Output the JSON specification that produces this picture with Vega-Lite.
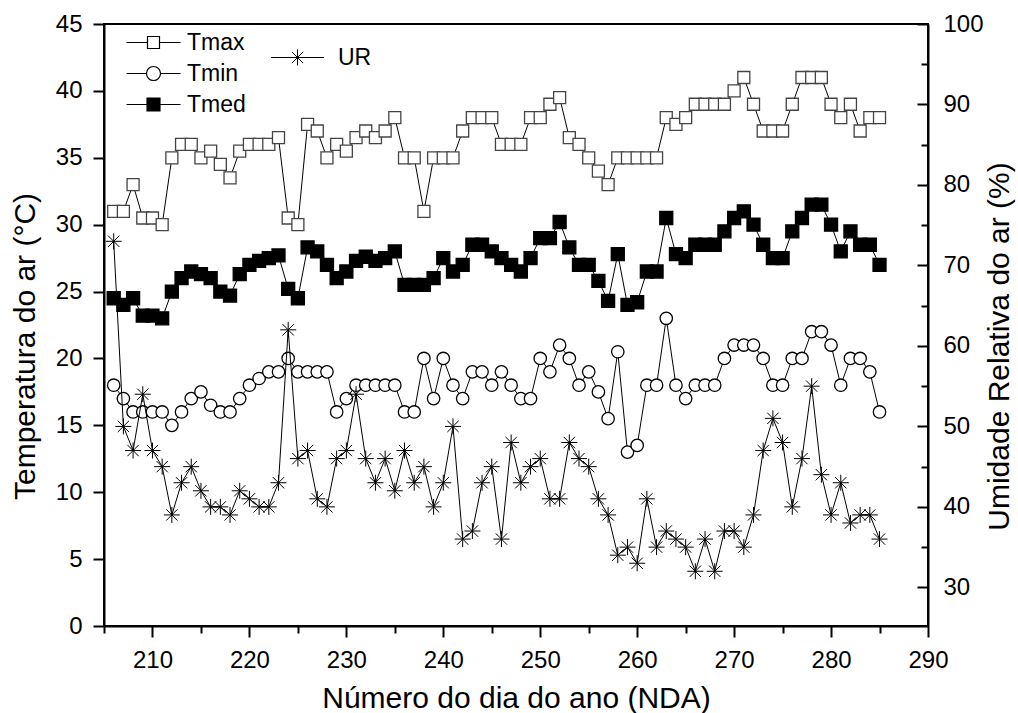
{
"$schema":"https://vega.github.io/schema/vega-lite/v6.json",
"width":824,"height":602,
"autosize":{"type":"none"},
"padding":{"left":104,"top":24,"right":90,"bottom":87},
"background":"white",
"config":{"font":"Liberation Sans","view":{"stroke":"black","strokeWidth":2},
 "axis":{"labelFontSize":24,"titleFontSize":30,"labelColor":"black","titleColor":"black","titleFontWeight":"normal","domainColor":"black","domainWidth":2,"tickColor":"black","tickWidth":2,"grid":false,"labelFlush":false,"labelOverlap":false,"labelBound":false}},
"data":{"values":[
{"dia":206,"Tmax":31,"Tmin":18,"Tmed":24.5,"UR":73},
{"dia":207,"Tmax":31,"Tmin":17,"Tmed":24,"UR":50},
{"dia":208,"Tmax":33,"Tmin":16,"Tmed":24.5,"UR":47},
{"dia":209,"Tmax":30.5,"Tmin":16,"Tmed":23.2,"UR":54},
{"dia":210,"Tmax":30.5,"Tmin":16,"Tmed":23.2,"UR":47},
{"dia":211,"Tmax":30,"Tmin":16,"Tmed":23,"UR":45},
{"dia":212,"Tmax":35,"Tmin":15,"Tmed":25,"UR":39},
{"dia":213,"Tmax":36,"Tmin":16,"Tmed":26,"UR":43},
{"dia":214,"Tmax":36,"Tmin":17,"Tmed":26.5,"UR":45},
{"dia":215,"Tmax":35,"Tmin":17.5,"Tmed":26.3,"UR":42},
{"dia":216,"Tmax":35.5,"Tmin":16.5,"Tmed":26,"UR":40},
{"dia":217,"Tmax":34.5,"Tmin":16,"Tmed":25,"UR":40},
{"dia":218,"Tmax":33.5,"Tmin":16,"Tmed":24.7,"UR":39},
{"dia":219,"Tmax":35.5,"Tmin":17,"Tmed":26.3,"UR":42},
{"dia":220,"Tmax":36,"Tmin":18,"Tmed":27,"UR":41},
{"dia":221,"Tmax":36,"Tmin":18.5,"Tmed":27.3,"UR":40},
{"dia":222,"Tmax":36,"Tmin":19,"Tmed":27.5,"UR":40},
{"dia":223,"Tmax":36.5,"Tmin":19,"Tmed":27.7,"UR":43},
{"dia":224,"Tmax":30.5,"Tmin":20,"Tmed":25.2,"UR":62},
{"dia":225,"Tmax":30,"Tmin":19,"Tmed":24.5,"UR":46},
{"dia":226,"Tmax":37.5,"Tmin":19,"Tmed":28.3,"UR":47},
{"dia":227,"Tmax":37,"Tmin":19,"Tmed":28,"UR":41},
{"dia":228,"Tmax":35,"Tmin":19,"Tmed":27,"UR":40},
{"dia":229,"Tmax":36,"Tmin":16,"Tmed":26,"UR":46},
{"dia":230,"Tmax":35.5,"Tmin":17,"Tmed":26.5,"UR":47},
{"dia":231,"Tmax":36.5,"Tmin":18,"Tmed":27.3,"UR":54},
{"dia":232,"Tmax":37,"Tmin":18,"Tmed":27.6,"UR":46},
{"dia":233,"Tmax":36.5,"Tmin":18,"Tmed":27.3,"UR":43},
{"dia":234,"Tmax":37,"Tmin":18,"Tmed":27.5,"UR":46},
{"dia":235,"Tmax":38,"Tmin":18,"Tmed":28,"UR":42},
{"dia":236,"Tmax":35,"Tmin":16,"Tmed":25.5,"UR":47},
{"dia":237,"Tmax":35,"Tmin":16,"Tmed":25.5,"UR":43},
{"dia":238,"Tmax":31,"Tmin":20,"Tmed":25.5,"UR":45},
{"dia":239,"Tmax":35,"Tmin":17,"Tmed":26,"UR":40},
{"dia":240,"Tmax":35,"Tmin":20,"Tmed":27.5,"UR":43},
{"dia":241,"Tmax":35,"Tmin":18,"Tmed":26.5,"UR":50},
{"dia":242,"Tmax":37,"Tmin":17,"Tmed":27,"UR":36},
{"dia":243,"Tmax":38,"Tmin":19,"Tmed":28.5,"UR":37},
{"dia":244,"Tmax":38,"Tmin":19,"Tmed":28.5,"UR":43},
{"dia":245,"Tmax":38,"Tmin":18,"Tmed":28,"UR":45},
{"dia":246,"Tmax":36,"Tmin":19,"Tmed":27.5,"UR":36},
{"dia":247,"Tmax":36,"Tmin":18,"Tmed":27,"UR":48},
{"dia":248,"Tmax":36,"Tmin":17,"Tmed":26.5,"UR":43},
{"dia":249,"Tmax":38,"Tmin":17,"Tmed":27.5,"UR":45},
{"dia":250,"Tmax":38,"Tmin":20,"Tmed":29,"UR":46},
{"dia":251,"Tmax":39,"Tmin":19,"Tmed":29,"UR":41},
{"dia":252,"Tmax":39.5,"Tmin":21,"Tmed":30.2,"UR":41},
{"dia":253,"Tmax":36.5,"Tmin":20,"Tmed":28.3,"UR":48},
{"dia":254,"Tmax":36,"Tmin":18,"Tmed":27,"UR":46},
{"dia":255,"Tmax":35,"Tmin":19,"Tmed":27,"UR":45},
{"dia":256,"Tmax":34,"Tmin":17.5,"Tmed":25.8,"UR":41},
{"dia":257,"Tmax":33,"Tmin":15.5,"Tmed":24.3,"UR":39},
{"dia":258,"Tmax":35,"Tmin":20.5,"Tmed":27.8,"UR":34},
{"dia":259,"Tmax":35,"Tmin":13,"Tmed":24,"UR":35},
{"dia":260,"Tmax":35,"Tmin":13.5,"Tmed":24.2,"UR":33},
{"dia":261,"Tmax":35,"Tmin":18,"Tmed":26.5,"UR":41},
{"dia":262,"Tmax":35,"Tmin":18,"Tmed":26.5,"UR":35},
{"dia":263,"Tmax":38,"Tmin":23,"Tmed":30.5,"UR":37},
{"dia":264,"Tmax":37.5,"Tmin":18,"Tmed":27.8,"UR":36},
{"dia":265,"Tmax":38,"Tmin":17,"Tmed":27.5,"UR":35},
{"dia":266,"Tmax":39,"Tmin":18,"Tmed":28.5,"UR":32},
{"dia":267,"Tmax":39,"Tmin":18,"Tmed":28.5,"UR":36},
{"dia":268,"Tmax":39,"Tmin":18,"Tmed":28.5,"UR":32},
{"dia":269,"Tmax":39,"Tmin":20,"Tmed":29.5,"UR":37},
{"dia":270,"Tmax":40,"Tmin":21,"Tmed":30.5,"UR":37},
{"dia":271,"Tmax":41,"Tmin":21,"Tmed":31,"UR":35},
{"dia":272,"Tmax":39,"Tmin":21,"Tmed":30,"UR":39},
{"dia":273,"Tmax":37,"Tmin":20,"Tmed":28.5,"UR":47},
{"dia":274,"Tmax":37,"Tmin":18,"Tmed":27.5,"UR":51},
{"dia":275,"Tmax":37,"Tmin":18,"Tmed":27.5,"UR":48},
{"dia":276,"Tmax":39,"Tmin":20,"Tmed":29.5,"UR":40},
{"dia":277,"Tmax":41,"Tmin":20,"Tmed":30.5,"UR":46},
{"dia":278,"Tmax":41,"Tmin":22,"Tmed":31.5,"UR":55},
{"dia":279,"Tmax":41,"Tmin":22,"Tmed":31.5,"UR":44},
{"dia":280,"Tmax":39,"Tmin":21,"Tmed":30,"UR":39},
{"dia":281,"Tmax":38,"Tmin":18,"Tmed":28,"UR":43},
{"dia":282,"Tmax":39,"Tmin":20,"Tmed":29.5,"UR":38},
{"dia":283,"Tmax":37,"Tmin":20,"Tmed":28.5,"UR":39},
{"dia":284,"Tmax":38,"Tmin":19,"Tmed":28.5,"UR":39},
{"dia":285,"Tmax":38,"Tmin":16,"Tmed":27,"UR":36}
]},
"layer":[
 {"transform":[{"fold":["Tmax","Tmin","Tmed"],"as":["serie","valor"]}],
  "layer":[
   {"mark":{"type":"line","color":"black","strokeWidth":1},
    "encoding":{
     "x":{"field":"dia","type":"quantitative","scale":{"domain":[205,290],"nice":false,"zero":false},
      "axis":{"values":[205,210,215,220,225,230,235,240,245,250,255,260,265,270,275,280,285,290],"format":"d",
       "labelExpr":"datum.value % 10 === 0 ? datum.label : ''",
       "tickSize":{"condition":{"test":"datum.value % 10 === 0","value":11},"value":7},
       "labelPadding":11,
       "title":"Número do dia do ano (NDA)","titleX":412,"titleY":81,"titleBaseline":"alphabetic","titleAlign":"center","titleAngle":0}},
     "y":{"field":"valor","type":"quantitative","scale":{"domain":[0,45],"nice":false,"zero":false},
      "axis":{"orient":"left","values":[0,2.5,5,7.5,10,12.5,15,17.5,20,22.5,25,27.5,30,32.5,35,37.5,40,42.5,45],"format":"d",
       "labelExpr":"datum.value % 5 === 0 ? datum.label : ''",
       "tickSize":{"condition":{"test":"datum.value % 5 === 0","value":11},"value":7},
       "labelPadding":11,
       "title":"Temperatura do ar (°C)","titleX":-70,"titleY":322,"titleBaseline":"alphabetic","titleAlign":"center","titleAngle":270}},
     "detail":{"field":"serie"}}},
   {"mark":{"type":"point","opacity":1,"strokeWidth":1.3},
    "encoding":{
     "x":{"field":"dia","type":"quantitative","scale":{"domain":[205,290],"nice":false,"zero":false}},
     "y":{"field":"valor","type":"quantitative","scale":{"domain":[0,45],"nice":false,"zero":false}},
     "shape":{"condition":{"test":"datum.serie === 'Tmin'","value":"circle"},"value":"square"},
     "fill":{"condition":{"test":"datum.serie === 'Tmed'","value":"black"},"value":"white"},
     "stroke":{"condition":{"test":"datum.serie === 'Tmax'","value":"#444444"},"value":"black"},
     "size":{"condition":[{"test":"datum.serie === 'Tmax'","value":144},{"test":"datum.serie === 'Tmin'","value":154}],"value":169}}},
   {"transform":[{"filter":"datum.dia < 0"}],
    "mark":{"type":"point","opacity":1,"strokeWidth":1.2,"color":"black","filled":false},
    "encoding":{
     "x":{"field":"dia","type":"quantitative","scale":{"domain":[205,290],"nice":false,"zero":false}},
     "y":{"field":"valor","type":"quantitative","scale":{"domain":[0,45],"nice":false,"zero":false}},
     "shape":{"field":"serie","type":"nominal","scale":{"domain":["Tmax","Tmin","Tmed"],"range":["M-4.5,0H-1M1,0H4.5M-1,-1H1V1H-1Z","M-4.5,0H-1.17M1.17,0H4.5M-1.17,0A1.17,1.17,0,1,0,1.17,0A1.17,1.17,0,1,0,-1.17,0Z","M-4.5,0H-1.08M1.08,0H4.5M-1.08,-1.08H1.08V1.08H-1.08ZM-1.08,-0.9H1.08M-1.08,-0.72H1.08M-1.08,-0.54H1.08M-1.08,-0.36H1.08M-1.08,-0.18H1.08M-1.08,0H1.08M-1.08,0.18H1.08M-1.08,0.36H1.08M-1.08,0.54H1.08M-1.08,0.72H1.08M-1.08,0.9H1.08"]},
      "legend":{"orient":"none","legendX":38,"legendY":7,"title":null,"padding":0,"labelFont":"Liberation Sans","labelFontSize":23,"labelColor":"black","labelOffset":22,"rowPadding":7,"symbolSize":144,"symbolStrokeWidth":1.2,"symbolStrokeColor":"black","symbolFillColor":"white","direction":"vertical"}}}}
  ]},
 {"transform":[{"fold":["UR"],"as":["serie","valor"]}],
  "layer":[
   {"mark":{"type":"line","color":"black","strokeWidth":1},
    "encoding":{
     "x":{"field":"dia","type":"quantitative","scale":{"domain":[205,290],"nice":false,"zero":false}},
     "y":{"field":"valor","type":"quantitative","scale":{"domain":[25.2,100],"nice":false,"zero":false},
      "axis":{"orient":"right","values":[30,35,40,45,50,55,60,65,70,75,80,85,90,95,100],"format":"d",
       "labelExpr":"datum.value % 10 === 0 ? datum.label : ''",
       "tickSize":{"condition":{"test":"datum.value % 10 === 0","value":-11},"value":-7},
       "labelPadding":26,
       "title":"Umidade Relativa do ar (%)","titleX":80,"titleY":322,"titleBaseline":"alphabetic","titleAlign":"center","titleAngle":270}}}},
   {"mark":{"type":"point","opacity":1,"strokeWidth":1,"size":256,"color":"black","shape":"M-1,0H1M0,-1V1M-0.707,-0.707L0.707,0.707M-0.707,0.707L0.707,-0.707"},
    "encoding":{
     "x":{"field":"dia","type":"quantitative","scale":{"domain":[205,290],"nice":false,"zero":false}},
     "y":{"field":"valor","type":"quantitative","scale":{"domain":[25.2,100],"nice":false,"zero":false}}}},
   {"transform":[{"filter":"datum.dia < 0"}],
    "mark":{"type":"point","opacity":1,"strokeWidth":1,"color":"black","filled":false},
    "encoding":{
     "x":{"field":"dia","type":"quantitative","scale":{"domain":[205,290],"nice":false,"zero":false}},
     "y":{"field":"valor","type":"quantitative","scale":{"domain":[25.2,100],"nice":false,"zero":false}},
     "shape":{"field":"serie","type":"nominal","scale":{"domain":["UR"],"range":["M-4.4,0H4.4M0,-1.33V1.33M-0.94,-0.94L0.94,0.94M-0.94,0.94L0.94,-0.94"]},
      "legend":{"orient":"none","legendX":182,"legendY":22,"title":null,"padding":0,"labelFont":"Liberation Sans","labelFontSize":23,"labelColor":"black","labelOffset":29,"symbolSize":144,"symbolStrokeWidth":1,"symbolStrokeColor":"black"}}}}
  ]}
],
"resolve":{"scale":{"y":"independent","shape":"independent"}}
}
